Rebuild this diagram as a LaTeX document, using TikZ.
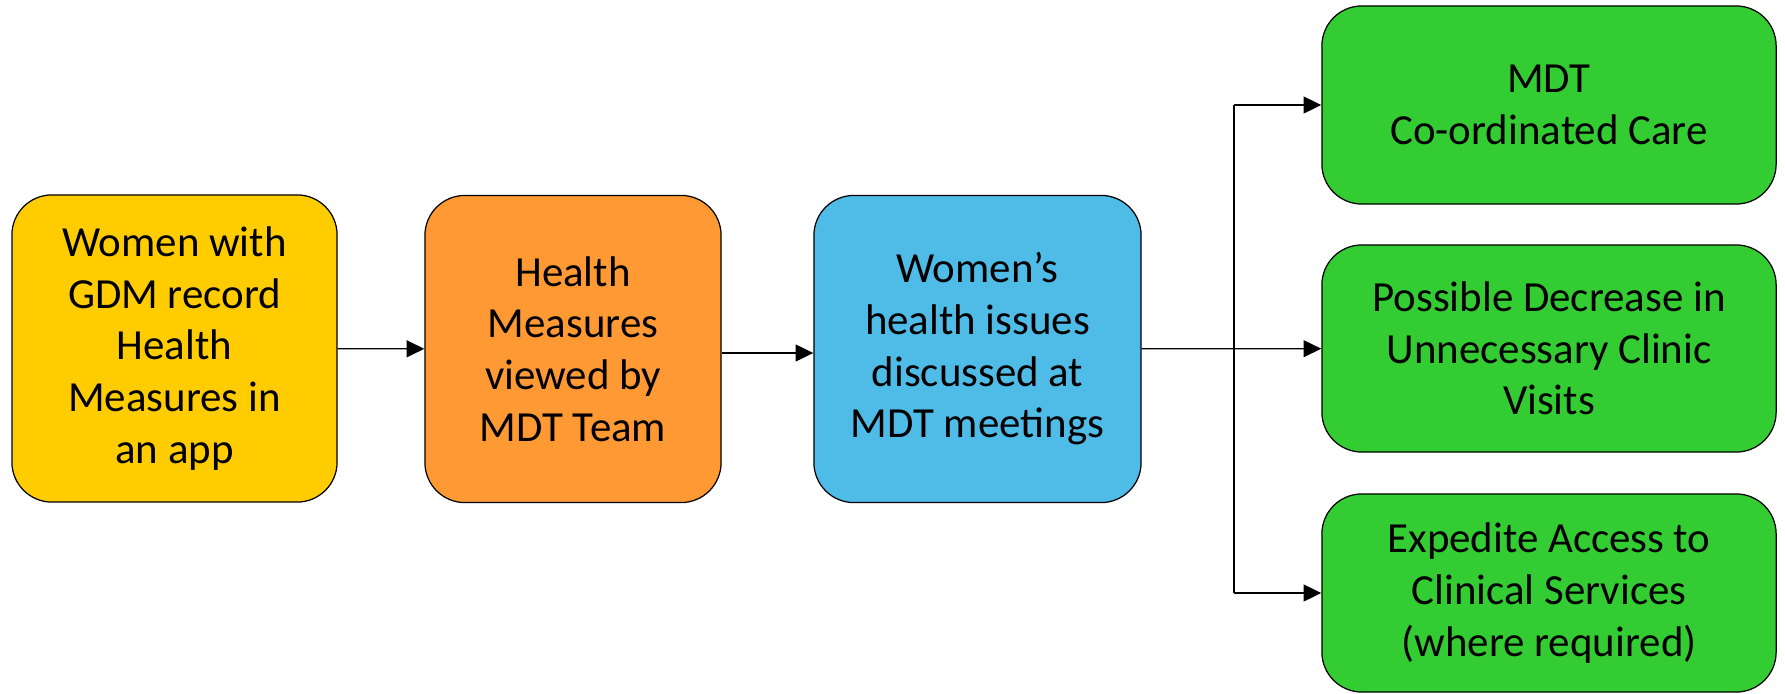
\documentclass[tikz,border=0pt]{standalone}
\usepackage{fontspec}
\setmainfont{Carlito}
\usetikzlibrary{arrows.meta}
\definecolor{appyellow}{RGB}{255,204,0}
\definecolor{teamorange}{RGB}{255,153,51}
\definecolor{meetblue}{RGB}{79,187,231}
\definecolor{outgreen}{RGB}{51,204,51}

\begin{document}
\begin{tikzpicture}[x=0.01cm,y=-0.01cm]
        \tikzstyle{every node}=[draw=black,line width=0.35pt,rounded corners=0.4cm,align=center,inner sep=0pt,font=\fontsize{12.2}{14.7}\selectfont]
        \tikzstyle{stage}=[minimum height=3.07cm]
        \tikzstyle{outcome}=[fill=outgreen,minimum width=4.54cm]
        \tikzstyle{link}=[line width=0.35pt,-{Triangle[length=5pt,width=4.8pt]}]
        \useasboundingbox (0,0) rectangle (1785,694);
        \node[stage,fill=appyellow,minimum width=3.25cm] (app) at (174.5,348.5) {Women with\\GDM record\\Health\\Measures in\\an app};
        \node[stage,fill=teamorange,minimum width=2.96cm] (viewed) at (573,349) {Health\\Measures\\viewed by\\MDT Team};
        \node[stage,fill=meetblue,minimum width=3.27cm] (issues) at (977.5,349) {Women’s\\health issues\\discussed at\\MDT meetings};
        \node[outcome,minimum height=1.98cm] (care) at (1549,105) {MDT\\Co-ordinated Care};
        \node[outcome,minimum height=2.07cm] (decrease) at (1549,348.5) {Possible Decrease in\\Unnecessary Clinic\\Visits};
        \node[outcome,minimum height=1.98cm] (access) at (1549,593) {Expedite Access to\\Clinical Services\\(where required)};
        \coordinate (fork) at (1234,348.5);
        \draw[link] (app) -- (viewed);
        \draw[link] (viewed.east |- 0,353) -- (issues.west |- 0,353);
        \draw[link] (issues) -- (decrease);
        \draw[line width=0.35pt] (fork |- care.west) -- (fork |- access.west);
        \draw[link] (fork |- care.west) -- (care.west);
        \draw[link] (fork |- access.west) -- (access.west);
    \end{tikzpicture}
\end{document}
